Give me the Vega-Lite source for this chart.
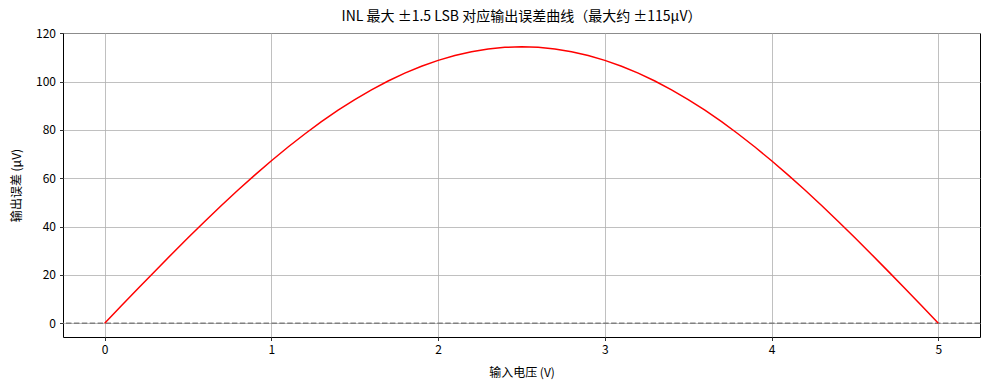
{
  "$schema": "https://vega.github.io/schema/vega-lite/v6.json",
  "width": 917,
  "height": 304,
  "autosize": {"type": "none"},
  "padding": {"left": 63, "top": 33, "right": 10, "bottom": 53},
  "config": {
    "font": "Noto Sans CJK SC",
    "view": {"stroke": "#000000", "strokeWidth": 1},
    "axis": {
      "domain": false,
      "grid": true,
      "gridColor": "#b0b0b0",
      "gridWidth": 0.8,
      "tickColor": "#000000",
      "tickSize": 3.5,
      "tickWidth": 0.8,
      "labelFontSize": 12,
      "labelColor": "#000000",
      "titleFontSize": 12,
      "titleFontWeight": "normal",
      "titleColor": "#000000",
      "labelFont": "Noto Sans CJK SC",
      "titleFont": "Noto Sans CJK SC"
    }
  },
  "title": {
    "text": "INL 最大 ±1.5 LSB 对应输出误差曲线（最大约 ±115μV）",
    "fontSize": 14,
    "fontWeight": "normal",
    "color": "#000000",
    "offset": 3,
    "font": "Noto Sans CJK SC"
  },
  "data": {
    "values": [
      {"v": 0.0, "e": 0.0},
      {"v": 0.1, "e": 7.186},
      {"v": 0.2, "e": 14.343},
      {"v": 0.3, "e": 21.444},
      {"v": 0.4, "e": 28.460},
      {"v": 0.5, "e": 35.364},
      {"v": 0.6, "e": 42.128},
      {"v": 0.7, "e": 48.726},
      {"v": 0.8, "e": 55.132},
      {"v": 0.9, "e": 61.320},
      {"v": 1.0, "e": 67.267},
      {"v": 1.1, "e": 72.946},
      {"v": 1.2, "e": 78.340},
      {"v": 1.3, "e": 83.423},
      {"v": 1.4, "e": 88.177},
      {"v": 1.5, "e": 92.584},
      {"v": 1.6, "e": 96.625},
      {"v": 1.7, "e": 100.285},
      {"v": 1.8, "e": 103.549},
      {"v": 1.9, "e": 106.404},
      {"v": 2.0, "e": 108.839},
      {"v": 2.1, "e": 110.844},
      {"v": 2.2, "e": 112.413},
      {"v": 2.3, "e": 113.537},
      {"v": 2.4, "e": 114.215},
      {"v": 2.5, "e": 114.44},
      {"v": 2.6, "e": 114.215},
      {"v": 2.7, "e": 113.537},
      {"v": 2.8, "e": 112.413},
      {"v": 2.9, "e": 110.844},
      {"v": 3.0, "e": 108.839},
      {"v": 3.1, "e": 106.404},
      {"v": 3.2, "e": 103.549},
      {"v": 3.3, "e": 100.285},
      {"v": 3.4, "e": 96.625},
      {"v": 3.5, "e": 92.584},
      {"v": 3.6, "e": 88.177},
      {"v": 3.7, "e": 83.423},
      {"v": 3.8, "e": 78.340},
      {"v": 3.9, "e": 72.946},
      {"v": 4.0, "e": 67.267},
      {"v": 4.1, "e": 61.320},
      {"v": 4.2, "e": 55.132},
      {"v": 4.3, "e": 48.726},
      {"v": 4.4, "e": 42.128},
      {"v": 4.5, "e": 35.364},
      {"v": 4.6, "e": 28.460},
      {"v": 4.7, "e": 21.444},
      {"v": 4.8, "e": 14.343},
      {"v": 4.9, "e": 7.186},
      {"v": 5.0, "e": 0.0}
    ]
  },
  "layer": [
    {
      "data": {"values": [{"y0": 0}]},
      "mark": {"type": "rule", "color": "#808080", "strokeWidth": 1.5, "strokeDash": [5.5, 2.4]},
      "encoding": {"y": {"field": "y0", "type": "quantitative", "scale": {"domain": [-5.72, 120.16], "nice": false, "zero": false}}}
    },
    {
      "mark": {"type": "line", "color": "#ff0000", "strokeWidth": 1.5, "clip": true},
      "encoding": {
        "x": {
          "field": "v",
          "type": "quantitative",
          "title": "输入电压 (V)",
          "scale": {"domain": [-0.25, 5.25], "nice": false, "zero": false},
          "axis": {"values": [0, 1, 2, 3, 4, 5], "format": "d", "labelPadding": 4, "titlePadding": 12}
        },
        "y": {
          "field": "e",
          "type": "quantitative",
          "title": "输出误差 (μV)",
          "scale": {"domain": [-5.72, 120.16], "nice": false, "zero": false},
          "axis": {"values": [0, 20, 40, 60, 80, 100, 120], "format": "d", "labelPadding": 4, "titlePadding": 12}
        }
      }
    }
  ]
}
